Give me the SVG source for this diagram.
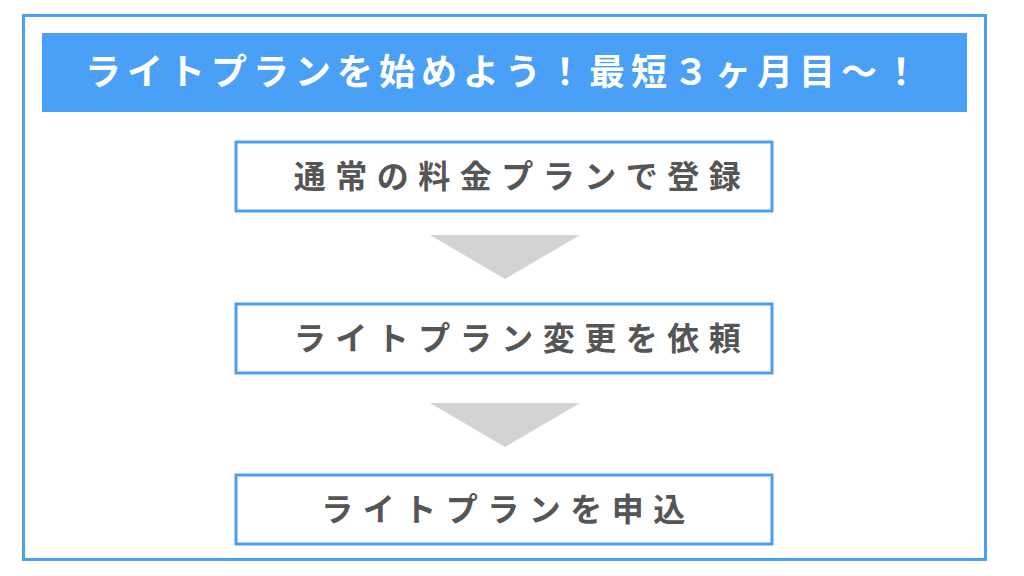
<svg xmlns="http://www.w3.org/2000/svg" width="1024" height="576" viewBox="0 0 1024 576">
<style>
.frame{fill:none;stroke:#4b9ff5;stroke-width:3}
.box{fill:#fff;stroke:#4b9ff5;stroke-width:3}
.hdr{font-family:"Noto Sans CJK JP",sans-serif;font-weight:bold;font-size:36px;fill:#fff;letter-spacing:6px}
.lbl{font-family:"Noto Sans CJK JP",sans-serif;font-weight:bold;font-size:32px;fill:#555;letter-spacing:9.5px}
.arr{fill:#d3d3d3}
</style>
<rect width="1024" height="576" fill="#fff"/>
<rect class="frame" x="23.5" y="15.5" width="962" height="544"/>
<g id="header">
<rect x="42" y="33" width="925" height="79" fill="#4aa0f7"/>
<text class="hdr" x="505" y="85" text-anchor="middle">ライトプランを始めよう！最短３ヶ月目～！</text>
</g>
<g id="node1">
<rect class="box" x="236" y="142" width="536" height="69"/>
<text class="lbl" x="522" y="188" text-anchor="middle">通常の料金プランで登録</text>
</g>
<g id="node2">
<rect class="box" x="236" y="304" width="536" height="69"/>
<text class="lbl" x="522" y="350" text-anchor="middle">ライトプラン変更を依頼</text>
</g>
<g id="node3">
<rect class="box" x="236" y="475" width="536" height="69"/>
<text class="lbl" x="508" y="521" text-anchor="middle">ライトプランを申込</text>
</g>
<g id="connectors">
<polygon class="arr" points="430,235 580,235 505,279"/>
<polygon class="arr" points="430,403 580,403 505,447"/>
</g>
</svg>
